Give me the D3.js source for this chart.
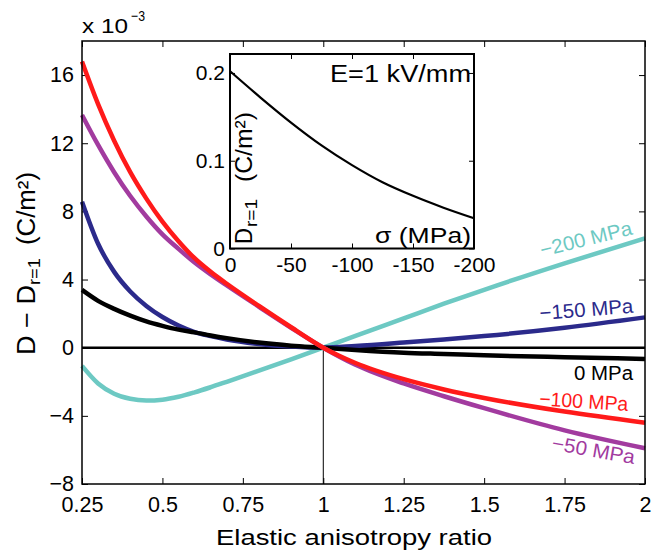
<!DOCTYPE html>
<html><head><meta charset="utf-8">
<script src="https://cdn.jsdelivr.net/npm/d3@7"></script>
<style>body{margin:0;background:#fff}text{font-family:"Liberation Sans",Arial,Helvetica,sans-serif}</style>
</head><body><svg id="c" width="666" height="554"></svg>
<script>
// ---------- data ----------
const ratio = [0.25,0.3,0.35,0.4,0.45,0.5,0.55,0.6,0.65,0.7,0.8,0.9,1.0,1.1,1.25,1.375,1.5,1.75,2.0];
const s0    = [3.39,2.75,2.28,1.88,1.54,1.28,1.06,0.9,0.72,0.56,0.3,0.12,0,-0.13,-0.29,-0.37,-0.45,-0.56,-0.66];
const s50   = [13.66,11.9,10.3,8.9,7.7,6.65,5.8,5.0,4.3,3.65,2.4,1.17,0,-1.0,-2.1,-2.85,-3.55,-4.85,-5.9];
const s100  = [16.8,14.3,12.15,10.3,8.75,7.4,6.25,5.25,4.45,3.75,2.45,1.2,0,-0.9,-1.85,-2.45,-2.95,-3.75,-4.4];
const s150  = [8.57,6.1,4.45,3.3,2.45,1.8,1.3,0.92,0.68,0.48,0.22,0.07,0,0.1,0.3,0.48,0.68,1.17,1.78];
const s200  = [-1.07,-2.1,-2.7,-3.0,-3.1,-3.05,-2.88,-2.62,-2.32,-2.0,-1.35,-0.68,0,0.69,1.72,2.58,3.4,4.95,6.42];
const seriesNames = ["−200 MPa","−150 MPa","0 MPa","−50 MPa","−100 MPa"];
const seriesValues = [s200,s150,s0,s50,s100];
const seriesColors = ["#6dc9c3","#2b2a8b","#000000","#a23b9f","#ff1a1a"];
const xTicks = [0.25,0.5,0.75,1,1.25,1.5,1.75,2];
const yTicks = [-8,-4,0,4,8,12,16];

const sigma  = [0,-25,-50,-75,-100,-125,-150,-175,-200];
const dR1    = [0.202,0.172,0.1435,0.1175,0.095,0.0755,0.060,0.0465,0.0345];
const insetXTicks = [0,-50,-100,-150,-200];
const insetYTicks = [0,0.1,0.2];

// ---------- main chart ----------
const svg = d3.select("#c");
const x = d3.scaleLinear().domain([0.25,2]).range([82,645]);
const y = d3.scaleLinear().domain([-8,18]).range([484,41]);

const fmtMinus = d => d < 0 ? "−" + Math.abs(d) : String(d);

function styleAxis(g, fs){
  g.select(".domain").remove();
  g.selectAll(".tick line").attr("stroke","#000").attr("stroke-width",1);
  g.selectAll(".tick text").attr("fill","#000").style("font-size",fs+"px");
}
svg.append("g").attr("transform","translate(0,484)")
  .call(d3.axisBottom(x).tickValues(xTicks).tickSize(-6).tickPadding(13).tickFormat(d=>String(d)))
  .call(g=>styleAxis(g,21.5));
svg.append("g").attr("transform","translate(0,41)")
  .call(d3.axisTop(x).tickValues(xTicks).tickSize(-6).tickFormat(""))
  .call(g=>styleAxis(g,21.5));
svg.append("g").attr("transform","translate(82,0)")
  .call(d3.axisLeft(y).tickValues(yTicks).tickSize(-6).tickPadding(8).tickFormat(fmtMinus))
  .call(g=>styleAxis(g,21.5));
svg.append("g").attr("transform","translate(645,0)")
  .call(d3.axisRight(y).tickValues(yTicks).tickSize(-6).tickFormat(""))
  .call(g=>styleAxis(g,21.5));

// reference lines
svg.append("line").attr("x1",x(0.25)).attr("x2",x(2)).attr("y1",y(0)).attr("y2",y(0))
  .attr("stroke","#000").attr("stroke-width",2.5);
svg.append("line").attr("x1",x(1)).attr("x2",x(1)).attr("y1",y(0)).attr("y2",y(-8))
  .attr("stroke","#000").attr("stroke-width",1);

const line = d3.line().x(d=>x(d[0])).y(d=>y(d[1])).curve(d3.curveMonotoneX);
seriesValues.forEach((vals,i)=>{
  svg.append("path").datum(ratio.map((r,j)=>[r,vals[j]]))
    .attr("d",line).attr("fill","none").attr("stroke",seriesColors[i])
    .attr("stroke-width",4.5).attr("stroke-linejoin","round");
});

// box
svg.append("rect").attr("x",82).attr("y",41).attr("width",563).attr("height",443)
  .attr("fill","none").attr("stroke","#000").attr("stroke-width",1.5);

// curve labels
const labelPos = [
  {t:seriesNames[0], c:seriesColors[0], x:542, y:257, a:-14, L:94},
  {t:seriesNames[1], c:seriesColors[1], x:540, y:320, a:-4.5, L:94},
  {t:seriesNames[2], c:seriesColors[2], x:574, y:380, a:0, L:59},
  {t:seriesNames[3], c:seriesColors[3], x:551, y:449.5, a:10, L:84},
  {t:seriesNames[4], c:seriesColors[4], x:539, y:405.5, a:3.5, L:89}
];
labelPos.forEach(p=>{
  svg.append("text").attr("transform",`translate(${p.x},${p.y}) rotate(${p.a})`)
    .attr("fill",p.c).style("font-size","20px")
    .attr("textLength",p.L).attr("lengthAdjust","spacingAndGlyphs").text(p.t);
});

// multiplier
svg.append("text").attr("x",82).attr("y",33).style("font-size","21px")
  .attr("textLength",46).attr("lengthAdjust","spacingAndGlyphs").text("x 10");
svg.append("text").attr("x",131).attr("y",21).style("font-size","15px")
  .attr("textLength",14).attr("lengthAdjust","spacingAndGlyphs").text("−3");

// axis labels
svg.append("text").attr("x",354).attr("y",545).attr("text-anchor","middle")
  .style("font-size","22.5px").attr("textLength",276).attr("lengthAdjust","spacingAndGlyphs")
  .text("Elastic anisotropy ratio");
function rotText(px, py, str, fs, L){
  return svg.append("text").attr("transform",`translate(${px},${py}) rotate(-90)`)
    .style("font-size",fs+"px").attr("textLength",L).attr("lengthAdjust","spacingAndGlyphs").text(str);
}
rotText(35,355,"D − D",25,70);
rotText(40,285,"r=1",17,27);
rotText(35,245,"(C/m²)",25,73);

// ---------- inset ----------
const ix = d3.scaleLinear().domain([0,-200]).range([230,474]);
const iy = d3.scaleLinear().domain([0,0.2216]).range([248.5,54]);
svg.append("rect").attr("x",230).attr("y",54).attr("width",244).attr("height",194.5)
  .attr("fill","#fff").attr("stroke","none");
const ifmt = d => d < 0 ? "-" + Math.abs(d) : String(d);
svg.append("g").attr("transform","translate(0,248.5)")
  .call(d3.axisBottom(ix).tickValues(insetXTicks).tickSize(-5).tickPadding(9).tickFormat(ifmt))
  .call(g=>styleAxis(g,21));
svg.append("g").attr("transform","translate(0,54)")
  .call(d3.axisTop(ix).tickValues(insetXTicks).tickSize(-5).tickFormat(""))
  .call(g=>styleAxis(g,21));
svg.append("g").attr("transform","translate(230,0)")
  .call(d3.axisLeft(iy).tickValues(insetYTicks).tickSize(-5).tickPadding(5).tickFormat(d=>String(d)))
  .call(g=>styleAxis(g,21));
svg.append("g").attr("transform","translate(474,0)")
  .call(d3.axisRight(iy).tickValues(insetYTicks).tickSize(-5).tickFormat(""))
  .call(g=>styleAxis(g,21));
const iline = d3.line().x(d=>ix(d[0])).y(d=>iy(d[1])).curve(d3.curveMonotoneX);
svg.append("path").datum(sigma.map((s,j)=>[s,dR1[j]])).attr("d",iline)
  .attr("fill","none").attr("stroke","#000").attr("stroke-width",2.2);
svg.append("rect").attr("x",230).attr("y",54).attr("width",244).attr("height",194.5)
  .attr("fill","none").attr("stroke","#000").attr("stroke-width",2);
svg.append("text").attr("x",330).attr("y",81.5).style("font-size","23px")
  .attr("textLength",141).attr("lengthAdjust","spacingAndGlyphs").text("E=1 kV/mm");
svg.append("text").attr("x",375).attr("y",243).style("font-size","22px")
  .attr("textLength",96).attr("lengthAdjust","spacingAndGlyphs").text("σ (MPa)");
const iyl = [["D",252,244,24,16],["r=1",257,227,17,28],["(C/m²)",252,182,24,70]];
iyl.forEach(d=>{
  svg.append("text").attr("transform",`translate(${d[1]},${d[2]}) rotate(-90)`)
    .style("font-size",d[3]+"px").attr("textLength",d[4]).attr("lengthAdjust","spacingAndGlyphs").text(d[0]);
});
</script></body></html>
